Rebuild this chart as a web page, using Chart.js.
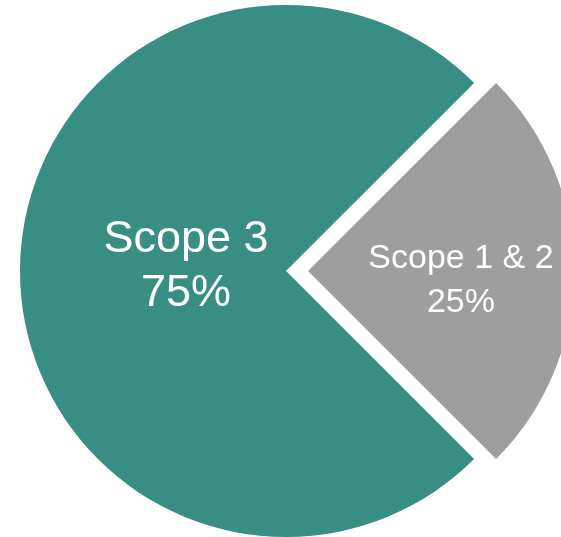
<!DOCTYPE html>
<html>
<head>
<meta charset="utf-8">
<script src="https://cdn.jsdelivr.net/npm/chart.js@4/dist/chart.umd.min.js"></script>
<style>
  html, body { margin: 0; padding: 0; background: #ffffff; }
  #wrap { width: 561px; height: 537px; }
</style>
</head>
<body>
<div id="wrap"><canvas id="pie" width="561" height="537"></canvas></div>
<script>
// Данные диаграммы
const categories = ['Scope 3', 'Scope 1 & 2'];
const shares = [75, 25];
const percentLabels = ['75%', '25%'];

// Стиль сегментов и подписей
const sliceColors = ['#388e83', '#9e9e9e'];
const sliceOffsets = [0, 22];          // смещение сегмента в пикселях
const labelRadius = [0.376, 0.575];    // доля радиуса до центра подписи
const labelShiftY = [8, 19];
const labelFont = [45, 34];
const labelLineGap = [54, 44];

// Подписи внутри сегментов
const sliceLabels = {
    id: 'sliceLabels',
    afterDatasetsDraw(chart) {
        const ctx = chart.ctx;
        const meta = chart.getDatasetMeta(0);
        meta.data.forEach((arc, i) => {
            const p = arc.getProps(['x', 'y', 'startAngle', 'endAngle', 'outerRadius'], true);
            const mid = (p.startAngle + p.endAngle) / 2;
            const r = p.outerRadius * labelRadius[i] + sliceOffsets[i];
            const cx = p.x + Math.cos(mid) * r;
            const cy = p.y + Math.sin(mid) * r + labelShiftY[i];
            ctx.save();
            ctx.fillStyle = '#ffffff';
            ctx.textAlign = 'center';
            ctx.textBaseline = 'alphabetic';
            ctx.font = labelFont[i] + 'px "Liberation Sans", Arial, sans-serif';
            ctx.fillText(categories[i], cx, cy - labelLineGap[i] / 2);
            ctx.fillText(percentLabels[i], cx, cy + labelLineGap[i] / 2);
            ctx.restore();
        });
    }
};

const chart = new Chart(document.getElementById('pie'), {
    type: 'pie',
    data: {
        labels: categories,
        datasets: [{
            data: shares,
            backgroundColor: sliceColors,
            borderWidth: 0,
            // в Chart.js v4 смещение дуги рисуется как offset / 4
            offset: sliceOffsets.map(o => o * 4),
            hoverOffset: 0,
            clip: false
        }]
    },
    options: {
        responsive: false,
        animation: false,
        rotation: 135,
        radius: 266,
        layout: { padding: { left: 11, top: 5, right: 0, bottom: 0 } },
        plugins: {
            legend: { display: false },
            tooltip: { enabled: false }
        },
        events: []
    },
    plugins: [sliceLabels]
});
</script>
</body>
</html>
